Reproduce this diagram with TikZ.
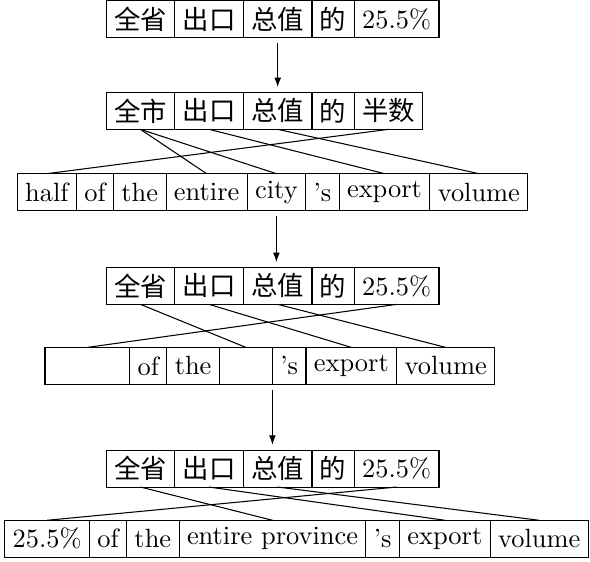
\documentclass[tikz,border=0pt]{standalone}
\usepackage{fontspec}
\newfontfamily\cjk{Noto Sans CJK SC}
\usetikzlibrary{arrows.meta}
\tikzset{
  w/.style={draw, inner xsep=3pt, inner ysep=1.5pt, minimum height=14pt, outer sep=0pt, anchor=west},
  link/.style={line width=0.4pt},
  flow/.style={-{Latex[length=3.6pt,width=2.6pt]}, shorten <=2pt, shorten >=2pt}
}
\begin{document}
\begin{tikzpicture}
\useasboundingbox (0,0) rectangle (223.5pt,-212.9pt);
% row 1
\node[w] (r1a) at (40.2pt,-7.3pt) {\cjk 全省};
\node[w] (r1b) at (r1a.east) {\cjk 出口};
\node[w] (r1c) at (r1b.east) {\cjk 总值};
\node[w] (r1d) at (r1c.east) {\cjk 的};
\node[w] (r1e) at (r1d.east) {25.5\%};
% row 2
\node[w] (r2a) at (40.2pt,-42pt) {\cjk 全市};
\node[w] (r2b) at (r2a.east) {\cjk 出口};
\node[w] (r2c) at (r2b.east) {\cjk 总值};
\node[w] (r2d) at (r2c.east) {\cjk 的};
\node[w] (r2e) at (r2d.east) {\cjk 半数};
% row 3
\node[w] (r3a) at (6.55pt,-72.8pt) {half};
\node[w] (r3b) at (r3a.east) {of};
\node[w] (r3c) at (r3b.east) {the};
\node[w] (r3d) at (r3c.east) {entire};
\node[w] (r3e) at (r3d.east) {city};
\node[w] (r3f) at (r3e.east) {'s};
\node[w] (r3g) at (r3f.east) {export};
\node[w] (r3h) at (r3g.east) {volume};
% row 4
\node[w] (r4a) at (40.2pt,-108.3pt) {\cjk 全省};
\node[w] (r4b) at (r4a.east) {\cjk 出口};
\node[w] (r4c) at (r4b.east) {\cjk 总值};
\node[w] (r4d) at (r4c.east) {\cjk 的};
\node[w] (r4e) at (r4d.east) {25.5\%};
% row 5
\node[w, minimum width=32.1pt] (r5a) at (17.05pt,-138.6pt) {};
\node[w] (r5b) at (r5a.east) {of};
\node[w] (r5c) at (r5b.east) {the};
\node[w, minimum width=20.1pt] (r5d) at (r5c.east) {};
\node[w] (r5e) at (r5d.east) {'s};
\node[w] (r5f) at (r5e.east) {export};
\node[w] (r5g) at (r5f.east) {volume};
% row 6
\node[w] (r6a) at (40.2pt,-177.5pt) {\cjk 全省};
\node[w] (r6b) at (r6a.east) {\cjk 出口};
\node[w] (r6c) at (r6b.east) {\cjk 总值};
\node[w] (r6d) at (r6c.east) {\cjk 的};
\node[w] (r6e) at (r6d.east) {25.5\%};
% row 7
\node[w] (r7a) at (1.78pt,-204.1pt) {25.5\%};
\node[w] (r7b) at (r7a.east) {of};
\node[w] (r7c) at (r7b.east) {the};
\node[w] (r7d) at (r7c.east) {entire province};
\node[w] (r7e) at (r7d.east) {'s};
\node[w] (r7f) at (r7e.east) {export};
\node[w] (r7g) at (r7f.east) {volume};
% arrows
\draw[flow] (r1c.south) -- (r2c.north);
\draw[flow] (r3e.south) -- (r3e.south |- r4c.north);
\draw[flow] (r5d.south east) -- (r5d.south east |- r6c.north);
% links row 2 -> row 3
\draw[link] (r2a.south) -- (r3d.north);
\draw[link] (r2a.south) -- (r3e.north);
\draw[link] (r2b.south) -- (r3g.north);
\draw[link] (r2c.south) -- (r3h.north);
\draw[link] (r2e.south) -- (r3a.north);
% links row 4 -> row 5
\draw[link] (r4a.south) -- (r5d.north);
\draw[link] (r4b.south) -- (r5f.north);
\draw[link] (r4c.south) -- (r5g.north);
\draw[link] (r4e.south) -- (r5a.north);
% links row 6 -> row 7
\draw[link] (r6a.south) -- (r7d.north);
\draw[link] (r6b.south) -- (r7f.north);
\draw[link] (r6c.south) -- (r7g.north);
\draw[link] (r6e.south) -- (r7a.north);
\end{tikzpicture}
\end{document}
